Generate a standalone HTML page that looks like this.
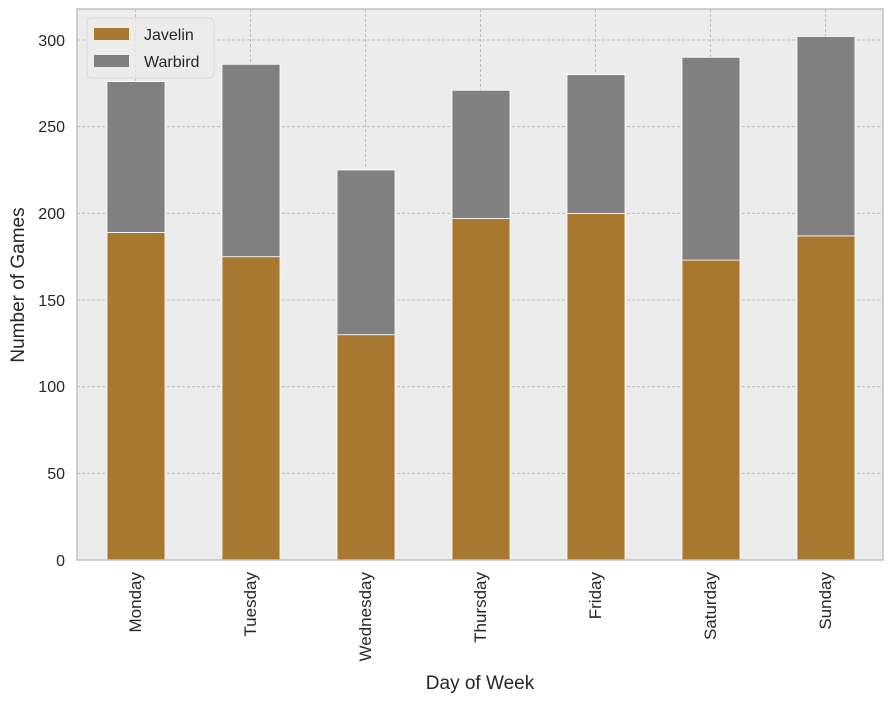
<!DOCTYPE html>
<html><head><meta charset="utf-8"><style>
html,body{margin:0;padding:0;background:#fff;}
svg{display:block;font-family:"Liberation Sans",Arial,sans-serif;}
</style></head><body>
<svg width="893" height="702" viewBox="0 0 893 702" xmlns="http://www.w3.org/2000/svg">
<rect x="77" y="9" width="806" height="551" fill="#ececec"/>
<g stroke="#b0b0b0" stroke-width="0.8" stroke-dasharray="3,2">
<line x1="77" x2="883" y1="473.3" y2="473.3"/>
<line x1="77" x2="883" y1="386.7" y2="386.7"/>
<line x1="77" x2="883" y1="300" y2="300"/>
<line x1="77" x2="883" y1="213.3" y2="213.3"/>
<line x1="77" x2="883" y1="126.7" y2="126.7"/>
<line x1="77" x2="883" y1="40" y2="40"/>
<line y1="9" y2="560" x1="135.5" x2="135.5"/>
<line y1="9" y2="560" x1="250.5" x2="250.5"/>
<line y1="9" y2="560" x1="365.5" x2="365.5"/>
<line y1="9" y2="560" x1="480.5" x2="480.5"/>
<line y1="9" y2="560" x1="595.5" x2="595.5"/>
<line y1="9" y2="560" x1="710.5" x2="710.5"/>
<line y1="9" y2="560" x1="825.5" x2="825.5"/>
</g>
<g stroke="#fff" stroke-width="0.8">
<rect x="107" y="232.4" width="58" height="327.6" fill="#a97830"/>
<rect x="107" y="81.6" width="58" height="150.8" fill="#808080"/>
<rect x="222" y="256.7" width="58" height="303.3" fill="#a97830"/>
<rect x="222" y="64.3" width="58" height="192.4" fill="#808080"/>
<rect x="337" y="334.7" width="58" height="225.3" fill="#a97830"/>
<rect x="337" y="170" width="58" height="164.7" fill="#808080"/>
<rect x="452" y="218.5" width="58" height="341.5" fill="#a97830"/>
<rect x="452" y="90.3" width="58" height="128.2" fill="#808080"/>
<rect x="567" y="213.3" width="58" height="346.7" fill="#a97830"/>
<rect x="567" y="74.7" width="58" height="138.6" fill="#808080"/>
<rect x="682" y="260.1" width="58" height="299.9" fill="#a97830"/>
<rect x="682" y="57.3" width="58" height="202.8" fill="#808080"/>
<rect x="797" y="235.9" width="58" height="324.1" fill="#a97830"/>
<rect x="797" y="36.5" width="58" height="199.4" fill="#808080"/>
</g>
<rect x="77" y="9" width="806" height="551" fill="none" stroke="#c0c0c0" stroke-width="1.5"/>
<rect x="87" y="18" width="127" height="60" rx="4" fill="#ececec" fill-opacity="0.8" stroke="#d8d8d8"/>
<rect x="94" y="28" width="35" height="12" fill="#a97830"/>
<rect x="94" y="55" width="35" height="12" fill="#808080"/>
<text x="144" y="40" font-size="16" fill="#262626">Javelin</text>
<text x="144" y="67" font-size="16" fill="#262626">Warbird</text>
<g font-size="16" fill="#262626" text-anchor="end">
<text x="65" y="566">0</text>
<text x="65" y="479">50</text>
<text x="65" y="392">100</text>
<text x="65" y="306">150</text>
<text x="65" y="219">200</text>
<text x="65" y="132">250</text>
<text x="65" y="46">300</text>
</g>
<g font-size="17" fill="#262626" text-anchor="end">
<text transform="translate(141,572) rotate(-90)">Monday</text>
<text transform="translate(256,572) rotate(-90)">Tuesday</text>
<text transform="translate(371,572) rotate(-90)">Wednesday</text>
<text transform="translate(486,572) rotate(-90)">Thursday</text>
<text transform="translate(601,572) rotate(-90)">Friday</text>
<text transform="translate(716,572) rotate(-90)">Saturday</text>
<text transform="translate(831,572) rotate(-90)">Sunday</text>
</g>
<text x="480" y="689" font-size="19" fill="#262626" text-anchor="middle">Day of Week</text>
<text transform="translate(24,285) rotate(-90)" font-size="19" fill="#262626" text-anchor="middle">Number of Games</text>
</svg>
</body></html>
